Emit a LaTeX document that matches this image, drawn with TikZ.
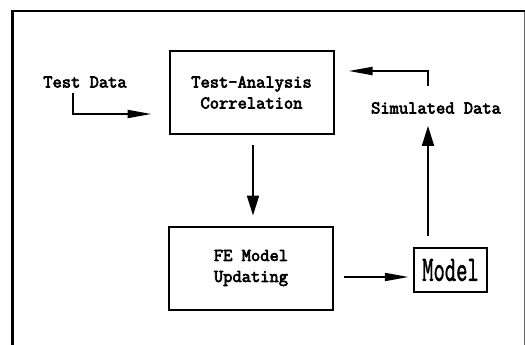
\documentclass[tikz,border=0pt]{standalone}
\usepackage{fontspec}
\usepackage{graphicx}
\setmonofont{Latin Modern Mono}[AutoFakeBold=3.5]
\newfontfamily\modelfont{Latin Modern Mono}[FakeBold=1.5]
\usetikzlibrary{arrows.meta}
\tikzset{
  lbl/.style={font=\ttfamily\bfseries\fontsize{18}{21}\selectfont, align=center, inner sep=0pt},
  blk/.style={draw, line width=2pt, minimum width=164pt, minimum height=83pt, inner sep=0pt, font=\ttfamily\bfseries\fontsize{18}{21}\selectfont, align=center},
  conn/.style={line width=2pt},
  varr/.style={conn, -{Triangle[length=20pt,width=12pt]}},
  harr/.style={conn, -{Triangle[length=24pt,width=8pt]}}
}
\begin{document}
\begin{tikzpicture}[x=1pt,y=-1pt]
\useasboundingbox (0,0) rectangle (525,345);
% frame
\draw[line width=2.5pt] (12.5,345) -- (12.5,11) -- (525,11);
\draw[line width=0.8pt, black!60] (524,12) -- (524,345);
% nodes
\node[blk] (tac) at (251.5,92.5) {Test-Analysis\\Correlation};
\node[blk] (fe) at (251,268) {FE Model\\Updating};
\node[draw, line width=2.5pt, minimum width=73pt, minimum height=44pt, inner sep=0pt] (mod) at (450.5,270)
  {\scalebox{0.61}[1]{\fontsize{36}{36}\selectfont\modelfont Model}};
\node[lbl] (td) at (85,82) {Test Data};
\node[lbl] (sd) at (436,108) {Simulated Data};
% connectors
\coordinate (tdin) at ([xshift=-17pt,yshift=-21.5pt]tac.west);
\draw[harr] ([xshift=-12pt,yshift=-5pt]td.south) |- (tdin);
\draw[varr] ([xshift=1.5pt,yshift=-10pt]tac.south) -- ([xshift=2pt,yshift=10pt]fe.north);
\draw[harr] ([xshift=10pt,yshift=-9pt]fe.east) -- ([xshift=-4pt,yshift=-7pt]mod.west);
\coordinate (sdin) at ([xshift=-8pt,yshift=-12pt]sd.south);
\draw[varr] ([xshift=-22.5pt,yshift=11pt]mod.north) -- (sdin);
\coordinate (tacin) at ([xshift=14pt,yshift=21.5pt]tac.east);
\draw[harr] ([xshift=-8pt,yshift=16pt]sd.north) |- (tacin);
\end{tikzpicture}
\end{document}
